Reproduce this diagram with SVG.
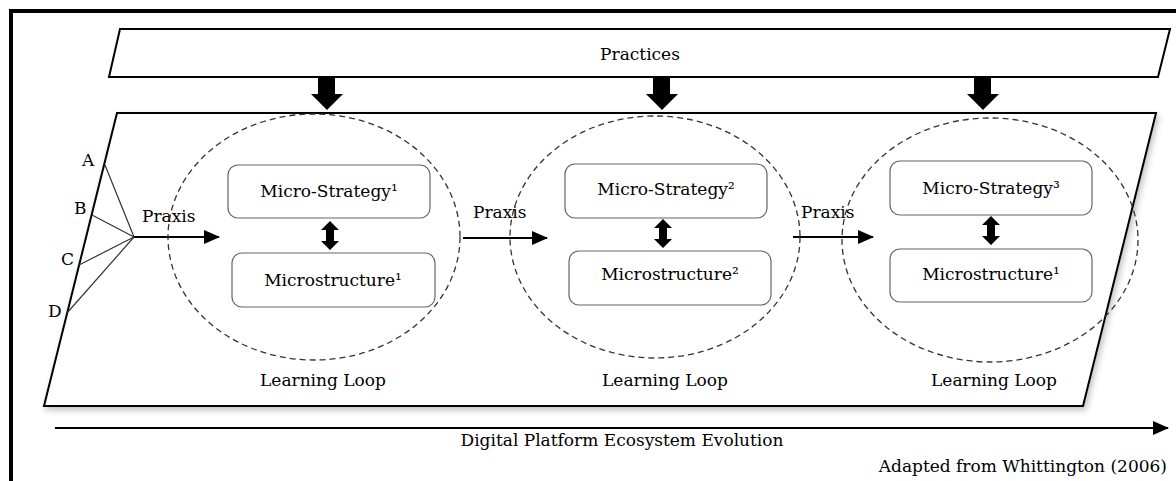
<svg xmlns="http://www.w3.org/2000/svg" width="1176" height="481" viewBox="0 0 1176 481">
<style>
text{font-family:"DejaVu Serif","Liberation Serif",serif;font-size:17px;fill:#000}
.c{text-anchor:middle}
.box{fill:#fff;stroke:#666;stroke-width:1.2}
.loop{fill:none;stroke:#333;stroke-width:1.3;stroke-dasharray:6,4}
.ln{stroke:#000;stroke-width:2;fill:none}
.fan{stroke:#333;stroke-width:1.2;fill:none}
.blk{fill:#000}
</style>
<defs>
<marker id="ah2" markerWidth="16" markerHeight="14" refX="15" refY="7" orient="auto" markerUnits="userSpaceOnUse" viewBox="0 0 16 14">
<path d="M0,0 L16,7 L0,14 Z" fill="#000"/>
</marker>
<filter id="sh" x="-5%" y="-5%" width="110%" height="115%">
<feDropShadow dx="2" dy="3" stdDeviation="3" flood-color="#000" flood-opacity="0.25"/>
</filter>
</defs>
<rect width="1176" height="481" fill="#fff"/>
<g id="frame">
<path d="M11,481 L11,11 L1176,11" fill="none" stroke="#000" stroke-width="4"/>
</g>
<g id="practices">
<polygon points="120,29 1170,29 1158,77 109,77" fill="#fff" stroke="#000" stroke-width="2"/>
<text class="c" x="640" y="60">Practices</text>
</g>
<g id="platform">
<polygon points="117,113 1156,113 1083,406 44,406" fill="#fff" stroke="#000" stroke-width="2" filter="url(#sh)"/>
</g>
<g id="connectors">
<path class="blk" d="M318,77 H335 V94 H343 L327,110 L311,94 H318 Z"/>
<path class="blk" d="M653,77 H670 V94 H678 L662,110 L646,94 H653 Z"/>
<path class="blk" d="M974,77 H991 V94 H999 L983,110 L967,94 H974 Z"/>
<path class="fan" d="M105,165 L134,237 L92,215 M134,237 L79,265 M134,237 L67,313"/>
<line class="ln" x1="134" y1="237" x2="219" y2="237" marker-end="url(#ah2)"/>
<line class="ln" x1="463" y1="238" x2="547" y2="238" marker-end="url(#ah2)"/>
<line class="ln" x1="793" y1="237" x2="873" y2="237" marker-end="url(#ah2)"/>
<path class="blk" d="M330,221 L339,230 H334 V241 H339 L330,250 L321,241 H326 V230 H321 Z"/>
<path class="blk" d="M663,219 L672,228 H667 V239 H672 L663,248 L654,239 H659 V228 H654 Z"/>
<path class="blk" d="M991,216 L1000,225 H995 V236 H1000 L991,245 L982,236 H987 V225 H982 Z"/>
<line class="ln" x1="55" y1="428" x2="1168" y2="428" marker-end="url(#ah2)"/>
</g>
<g id="letters">
<text x="82" y="166">A</text>
<text x="74" y="214">B</text>
<text x="61" y="265">C</text>
<text x="48" y="317">D</text>
<text x="142" y="222">Praxis</text>
<text x="473" y="218">Praxis</text>
<text x="801" y="218">Praxis</text>
</g>
<g id="loop1">
<ellipse class="loop" cx="314" cy="237" rx="146" ry="123"/>
<text class="c" x="323" y="386">Learning Loop</text>
</g>
<g id="loop2">
<ellipse class="loop" cx="655" cy="237" rx="145" ry="121"/>
<text class="c" x="665" y="386">Learning Loop</text>
</g>
<g id="loop3">
<ellipse class="loop" cx="990" cy="240" rx="148" ry="122"/>
<text class="c" x="994" y="386">Learning Loop</text>
</g>
<g id="ms1">
<rect class="box" x="228" y="165" width="202" height="53" rx="10"/>
<text class="c" x="329" y="197">Micro-Strategy¹</text>
</g>
<g id="mst1">
<rect class="box" x="232" y="253" width="203" height="54" rx="10"/>
<text class="c" x="333" y="286">Microstructure¹</text>
</g>
<g id="ms2">
<rect class="box" x="565" y="164" width="202" height="54" rx="10"/>
<text class="c" x="666" y="195">Micro-Strategy²</text>
</g>
<g id="mst2">
<rect class="box" x="569" y="251" width="202" height="54" rx="10"/>
<text class="c" x="670" y="280">Microstructure²</text>
</g>
<g id="ms3">
<rect class="box" x="890" y="161" width="202" height="54" rx="10"/>
<text class="c" x="991" y="194">Micro-Strategy³</text>
</g>
<g id="mst3">
<rect class="box" x="890" y="249" width="202" height="53" rx="10"/>
<text class="c" x="991" y="280">Microstructure¹</text>
</g>
<g id="captions">
<text class="c" x="622" y="446">Digital Platform Ecosystem Evolution</text>
<text x="1167" y="472" text-anchor="end">Adapted from Whittington (2006)</text>
</g>
</svg>
